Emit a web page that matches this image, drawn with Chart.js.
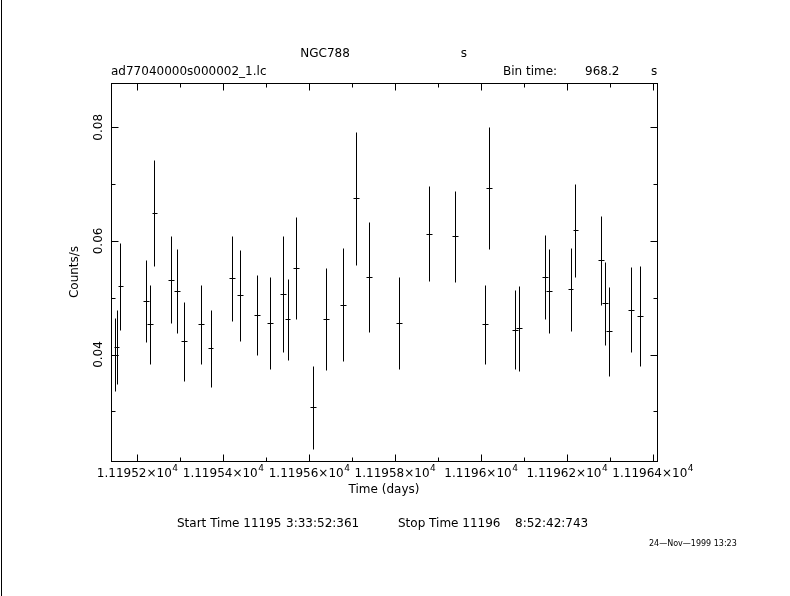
<!DOCTYPE html>
<html>
<head>
<meta charset="utf-8">
<title>NGC788 light curve</title>
<script src="https://cdn.jsdelivr.net/npm/chart.js@4.4.1/dist/chart.umd.min.js"></script>
<style>
  html, body { margin: 0; padding: 0; background: #fff; }
  canvas { display: block; }
</style>
</head>
<body>
<canvas id="lc" width="790" height="596"></canvas>
<script>
// light curve bins (days), rate (counts/s) and 1-sigma errors
const timeDays = [11195.148, 11195.152, 11195.161, 11195.220, 11195.230, 11195.240, 11195.278, 11195.292,
  11195.309, 11195.349, 11195.371, 11195.420, 11195.439, 11195.479, 11195.509, 11195.539, 11195.550,
  11195.569, 11195.610, 11195.640, 11195.679, 11195.710, 11195.740, 11195.809, 11195.879, 11195.939,
  11196.010, 11196.019, 11196.080, 11196.089, 11196.149, 11196.159, 11196.209, 11196.220, 11196.280,
  11196.289, 11196.298, 11196.350, 11196.370];
const countRate = [0.0400, 0.0413, 0.0520, 0.0494, 0.0453, 0.0649, 0.0532, 0.0512, 0.0423, 0.0453,
  0.0411, 0.0534, 0.0504, 0.0470, 0.0456, 0.0506, 0.0462, 0.0552, 0.0307, 0.0462, 0.0488, 0.0675,
  0.0537, 0.0455, 0.0613, 0.0608, 0.0453, 0.0693, 0.0444, 0.0446, 0.0536, 0.0512, 0.0515, 0.0619,
  0.0566, 0.0490, 0.0441, 0.0479, 0.0467];
const rateError = [0.0065, 0.0065, 0.0076, 0.0072, 0.0069, 0.0094, 0.0076, 0.0074, 0.0069, 0.0069,
  0.0068, 0.0075, 0.0080, 0.0070, 0.0081, 0.0102, 0.0071, 0.0090, 0.0073, 0.0090, 0.0099, 0.0117,
  0.0097, 0.0081, 0.0083, 0.0080, 0.0069, 0.0108, 0.0069, 0.0075, 0.0074, 0.0074, 0.0073, 0.0082,
  0.0078, 0.0073, 0.0078, 0.0075, 0.0088];
const binHalfWidth = 0.0066;

const xMajorTicks = [11195.2, 11195.4, 11195.6, 11195.8, 11196.0, 11196.2, 11196.4];
const xTickLabels = ['1.11952', '1.11954', '1.11956', '1.11958', '1.1196', '1.11962', '1.11964'];
const xMinorTicks = [11195.3, 11195.5, 11195.7, 11195.9, 11196.1, 11196.3];
const yMajorTicks = [0.04, 0.06, 0.08];
const yTickLabels = ['0.04', '0.06', '0.08'];
const yMinorTicks = [0.03, 0.05, 0.07];

const FONT = '"DejaVu Sans", "Liberation Sans", sans-serif';

const points = timeDays.map((t, i) => ({ x: t, y: countRate[i], err: rateError[i] }));

const qdpPlot = {
  id: 'qdpPlot',
  afterDatasetsDraw(chart) {
    const { ctx, chartArea: a, scales: { x, y } } = chart;
    const px = v => Math.round(x.getPixelForValue(v)) + 0.5;
    const py = v => Math.round(y.getPixelForValue(v)) + 0.5;
    const L = Math.round(a.left) + 0.5, R = Math.round(a.right) + 0.5;
    const T = Math.round(a.top) + 0.5, B = Math.round(a.bottom) + 0.5;

    ctx.save();
    ctx.strokeStyle = '#000';
    ctx.fillStyle = '#000';
    ctx.lineWidth = 1;

    // page edge line
    ctx.beginPath();
    ctx.moveTo(1.5, 0); ctx.lineTo(1.5, 596);
    ctx.stroke();

    // frame + inward ticks
    ctx.strokeRect(L, T, R - L, B - T);
    ctx.beginPath();
    const xt = (v, len) => { const p = px(v); ctx.moveTo(p, B); ctx.lineTo(p, B - len); ctx.moveTo(p, T); ctx.lineTo(p, T + len); };
    const yt = (v, len) => { const p = py(v); ctx.moveTo(L, p); ctx.lineTo(L + len, p); ctx.moveTo(R, p); ctx.lineTo(R - len, p); };
    xMajorTicks.forEach(v => xt(v, 7));
    xMinorTicks.forEach(v => xt(v, 4));
    yMajorTicks.forEach(v => yt(v, 7));
    yMinorTicks.forEach(v => yt(v, 4));
    ctx.stroke();

    // error bars
    ctx.beginPath();
    chart.data.datasets[0].data.forEach(d => {
      const cx = px(d.x), cy = py(d.y);
      ctx.moveTo(cx, py(d.y + d.err)); ctx.lineTo(cx, py(d.y - d.err));
      ctx.moveTo(px(d.x - binHalfWidth), cy); ctx.lineTo(px(d.x + binHalfWidth), cy);
    });
    ctx.stroke();

    // x tick labels  mantissa×10^4
    ctx.textBaseline = 'alphabetic';
    ctx.textAlign = 'left';
    xMajorTicks.forEach((v, i) => {
      ctx.font = '12px ' + FONT;
      const base = xTickLabels[i] + '×10';
      const wb = ctx.measureText(base).width;
      ctx.font = '9px ' + FONT;
      const ws = ctx.measureText('4').width;
      const x0 = x.getPixelForValue(v) - (wb + ws) / 2;
      ctx.font = '12px ' + FONT;
      ctx.fillText(base, x0, 477);
      ctx.font = '9px ' + FONT;
      ctx.fillText('4', x0 + wb + 0.5, 471);
    });

    // y tick labels, rotated
    ctx.font = '12px ' + FONT;
    ctx.textAlign = 'center';
    ctx.textBaseline = 'middle';
    yMajorTicks.forEach((v, i) => {
      ctx.save();
      ctx.translate(99, y.getPixelForValue(v));
      ctx.rotate(-Math.PI / 2);
      ctx.fillText(yTickLabels[i], 0, 0);
      ctx.restore();
    });

    // axis titles
    ctx.fillText('Time (days)', 384, 490);
    ctx.save();
    ctx.translate(75, 272);
    ctx.rotate(-Math.PI / 2);
    ctx.fillText('Counts/s', 0, 0);
    ctx.restore();

    // header
    ctx.fillText('NGC788', 325, 54);
    ctx.fillText('s', 464, 54);
    ctx.textAlign = 'left';
    ctx.fillText('ad77040000s000002_1.lc', 111, 72);
    ctx.fillText('Bin time:', 503, 72);
    ctx.fillText('968.2', 585, 72);
    ctx.fillText('s', 651, 72);

    // footer
    ctx.fillText('Start Time 11195', 177, 524);
    ctx.fillText('3:33:52:361', 286, 524);
    ctx.fillText('Stop Time 11196', 398, 524);
    ctx.fillText('8:52:42:743', 515, 524);
    ctx.font = '8px ' + FONT;
    ctx.fillText('24\u2014Nov\u20141999 13:23', 649, 544);
    ctx.restore();
  }
};

new Chart(document.getElementById('lc'), {
  type: 'scatter',
  data: {
    datasets: [{ label: 'NGC788', data: points, pointRadius: 0, pointHoverRadius: 0, showLine: false }]
  },
  options: {
    responsive: false,
    animation: false,
    layout: { padding: { left: 111, right: 133, top: 83, bottom: 135 } },
    plugins: { legend: { display: false }, tooltip: { enabled: false } },
    scales: {
      x: { type: 'linear', display: false, min: 11195.139, max: 11196.410 },
      y: { type: 'linear', display: false, min: 0.02125, max: 0.0878 }
    }
  },
  plugins: [qdpPlot]
});
</script>
</body>
</html>
